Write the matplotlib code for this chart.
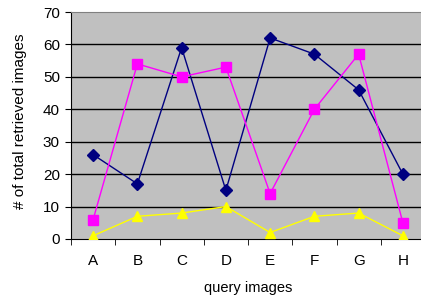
import matplotlib
matplotlib.use("Agg")
import matplotlib.pyplot as plt
import numpy as np

categories = ["A", "B", "C", "D", "E", "F", "G", "H"]
series_navy = [26, 17, 59, 15, 62, 57, 46, 20]
series_magenta = [6, 54, 50, 53, 14, 40, 57, 5]
series_yellow = [1, 7, 8, 10, 2, 7, 8, 1]
y_ticks = [0, 10, 20, 30, 40, 50, 60, 70]

plt.rcParams['font.family'] = ['Liberation Sans', 'DejaVu Sans']

fig = plt.figure(figsize=(4.21, 3.01), dpi=100)
ax = fig.add_axes([71 / 421, 62 / 301, 354 / 421, 227 / 301])
ax.set_facecolor("#C0C0C0")

x = np.arange(len(categories))

# gridlines
for v in y_ticks[1:-1]:
    ax.axhline(v, color="black", lw=1.0, zorder=1)

ax.plot(x, series_navy, color="#000080", marker="D", markersize=6, lw=1.0, zorder=3)
ax.plot(x, series_magenta, color="#FF00FF", marker="s", markersize=7, lw=1.0, zorder=3)
ax.plot(x, series_yellow, color="#FFFF00", marker="^", markersize=7, lw=1.0, zorder=3)

ax.set_xlim(-0.5, len(categories) - 0.5)
ax.set_ylim(0, 70)
ax.set_yticks(y_ticks)
ax.set_xticks(x)
ax.set_xticklabels(categories)
ax.set_xticks(np.arange(-0.5, len(categories), 1.0), minor=True)
ax.tick_params(axis="x", which="major", length=0, pad=11, labelsize=11)
ax.tick_params(axis="x", which="minor", length=4, direction="out", color="black")
ax.tick_params(axis="y", length=4, direction="out", labelsize=11, pad=4)

ax.spines["top"].set_color("#808080")
ax.spines["right"].set_visible(False)
ax.spines["left"].set_color("black")
ax.spines["bottom"].set_color("black")

fig.text(248 / 421, 1 - 288 / 301, "query images", ha="center", va="center", fontsize=10.5)
fig.text(20 / 421, 1 - 121 / 301, "# of total retrieved images", ha="center", va="center",
         rotation=90, fontsize=11)

fig.savefig("out.png", dpi=100)
